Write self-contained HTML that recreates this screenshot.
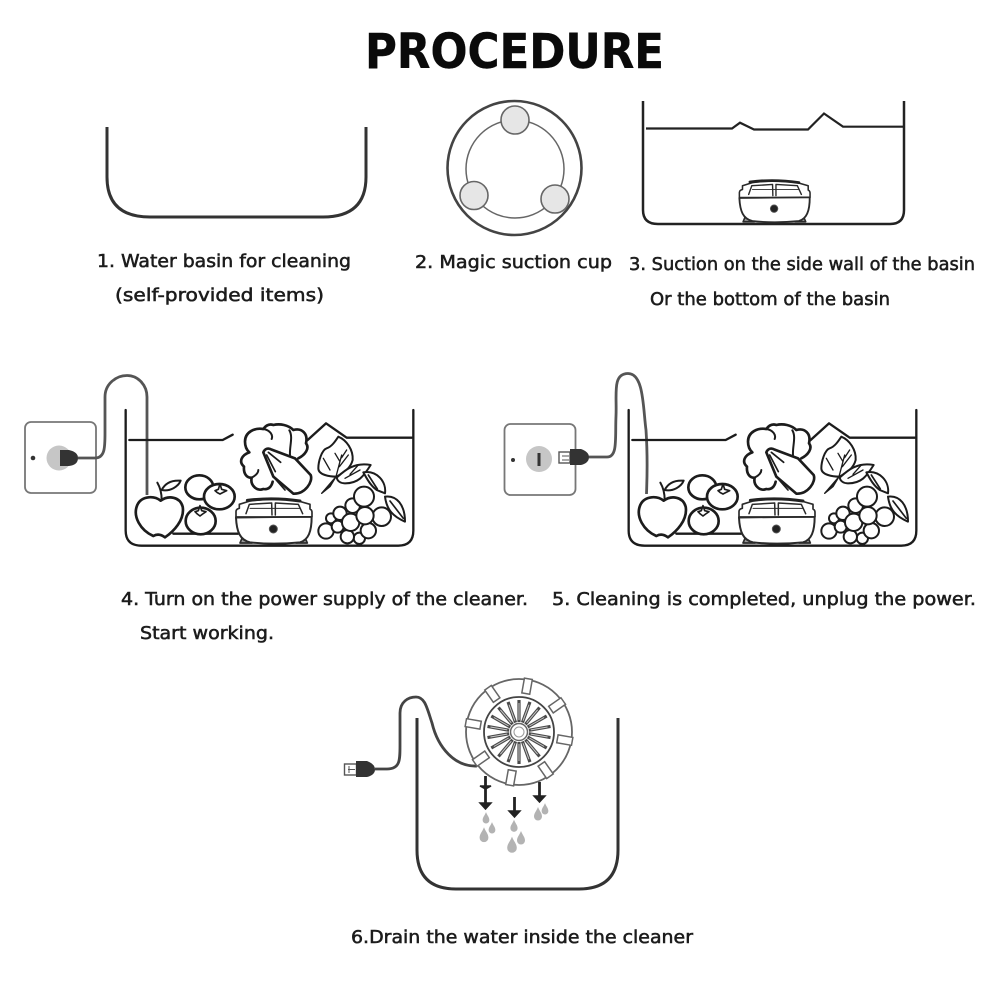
<!DOCTYPE html>
<html lang="en">
<head>
<meta charset="utf-8">
<title>Procedure</title>
<style>
html,body{margin:0;padding:0;background:#fff}
svg{display:block}
.t{font-family:"DejaVu Sans","Liberation Sans",sans-serif;font-size:18px;fill:#1c1c1c;stroke:#1c1c1c;stroke-width:.55}
.ttl{font-family:"DejaVu Sans","Liberation Sans",sans-serif;font-weight:bold;font-size:48px;fill:#0a0a0a;stroke:#0a0a0a;stroke-width:.4}
</style>
</head>
<body>
<svg width="1001" height="1001" viewBox="0 0 1001 1001" xmlns="http://www.w3.org/2000/svg">
<defs>
<g id="dev" fill="none" stroke="#2a2a2a" stroke-width="6" stroke-linejoin="round" stroke-linecap="round">
  <g transform="translate(660,165)">
    <path d="M30 384 L36 370 H58 L66 384 Z M198 384 L206 370 H226 L232 384 Z" fill="#999" stroke-width="5"/>
    <path d="M18 308 C20 350 30 375 60 382 Q130 390 210 382 C235 375 245 350 245 305" fill="#fff"/>
    <path d="M18 308 V290 Q18 282 28 280 L28 268 L60 258 Q130 248 205 258 L240 268 V282 Q246 285 246 292 V305 Z" fill="#fff" stroke-width="5"/>
    <path d="M52 256 Q130 246 210 258" stroke-width="9" stroke="#222"/>
    <path d="M18 306 H245" stroke-width="5"/>
    <path d="M48 296 L58 268 L125 264 L126 300 M136 300 L136 264 L205 268 L218 296" stroke-width="4.500"/>
    <path d="M60 280 H210" stroke-width="3"/>
    <circle cx="130" cy="342" r="12" fill="#222" stroke="#555" stroke-width="3"/>
  </g>
</g>
<g id="scene" fill="none" stroke="#1c1c1c" stroke-width="8" stroke-linejoin="round" stroke-linecap="round">
  <path d="M347 150 V512 Q347 557 395 557 H1165 Q1210 557 1210 512 V150" stroke-width="7"/>
  <path d="M358 240 H638 L668 224 M893 240 L948 190 L1010 233 H1206" stroke-width="7"/>
  <path d="M490 521 H684" stroke-width="7"/>
  <!-- apple, plum, tomatoes -->
  <g transform="translate(360,330)">
    <path d="M92 92 C70 75 30 78 20 110 C10 140 30 180 70 198 C80 192 92 192 105 202 C130 185 165 150 158 110 C150 80 115 75 92 92 Z" fill="#fff"/>
    <path d="M95 90 C95 70 92 55 82 38" stroke-width="6"/>
    <path d="M95 60 C105 40 125 30 152 32 C145 50 120 65 95 60 Z" fill="#fff" stroke-width="6"/>
    <ellipse cx="208" cy="52" rx="42" ry="36" fill="#fff"/>
    <ellipse cx="268" cy="80" rx="46" ry="38" fill="#fff"/>
    <ellipse cx="212" cy="153" rx="45" ry="40" fill="#fff"/>
    <path d="M255 62 L265 58 L270 42 L275 58 L290 62 L278 68 L270 72 L262 68 Z" fill="#fff" stroke-width="5"/>
    <path d="M195 125 L205 122 L210 107 L215 122 L228 125 L218 132 L210 138 L202 132 Z" fill="#fff" stroke-width="5"/>
  </g>
  <!-- produce, device -->
  <use href="#dev"/>
  <g transform="translate(660,165)">
    <path d="M205 130 C225 120 240 100 228 85 C235 55 215 38 190 45 C175 30 150 25 130 30 C115 25 105 35 100 42 C75 38 45 50 45 80 C45 95 50 105 58 112 C35 120 25 140 42 155 C40 175 50 190 65 188 C60 210 80 230 100 222 C115 225 125 215 128 200" fill="#fff"/>
    <path d="M100 42 C120 45 130 60 125 72 M178 46 C190 65 178 95 180 120 M65 188 C80 180 85 172 85 165" stroke-width="6"/>
    <path d="M100 112 C105 100 115 98 125 104 L195 130 L242 180 C250 200 225 238 190 236 L130 185 Z" fill="#fff"/>
    <path d="M115 112 L152 142 M110 120 L136 170 M130 185 L165 225" stroke-width="5"/>
    <path d="M325 65 C350 75 370 105 368 135 C360 165 335 175 320 185 C300 185 265 180 265 160 C265 140 275 105 290 100 C305 95 315 80 325 65 Z" fill="#fff" stroke-width="6"/>
    <path d="M320 188 C340 170 370 140 422 150 C400 185 385 205 345 205 C330 205 322 197 320 188 Z" fill="#fff" stroke-width="6"/>
    <path d="M275 235 L318 185 L300 215 Z" fill="#222" stroke-width="4"/>
    <path d="M318 185 L335 120 M330 140 L315 115 M328 155 L355 120 M335 128 L350 105 M300 165 L280 130 M345 190 L390 165 M360 178 L385 150" stroke-width="4"/>
    <path d="M400 172 C440 165 470 200 465 235 L440 225 C420 210 410 190 400 172 Z" fill="#fff" stroke-width="6"/>
    <path d="M415 180 L442 222" stroke-width="5"/>
    <path d="M465 245 C500 240 525 270 525 320 C490 305 470 285 465 245 Z" fill="#fff" stroke-width="6"/>
    <path d="M480 258 L520 310" stroke-width="5"/>
    <g fill="#fff" stroke-width="6">
      <circle cx="303" cy="310" r="15"/>
      <circle cx="388" cy="370" r="17"/>
      <circle cx="330" cy="295" r="20"/>
      <circle cx="288" cy="348" r="23"/>
      <circle cx="323" cy="335" r="18"/>
      <circle cx="352" cy="365" r="20"/>
      <circle cx="368" cy="272" r="22"/>
      <circle cx="415" cy="347" r="23"/>
      <circle cx="362" cy="322" r="26"/>
      <circle cx="455" cy="305" r="28"/>
      <circle cx="405" cy="302" r="26"/>
      <circle cx="402" cy="245" r="30"/>
    </g>
  </g>
</g>
<g id="spoke">
  <line x1="0" y1="-10" x2="0" y2="-32" stroke="#4a4a4a" stroke-width="3.200"/>
  <line x1="0" y1="-12" x2="0" y2="-29" stroke="#c8c8c8" stroke-width="1"/>
</g>
<path id="drop" d="M0 -14 C3 -6 8 -2 8 5 A8 8 0 1 1 -8 5 C-8 -2 -3 -6 0 -14 Z" fill="#b3b3b3"/>
</defs>

<rect width="1001" height="1001" fill="#fff"/>

<text class="ttl" x="365" y="68" textLength="299" lengthAdjust="spacingAndGlyphs">PROCEDURE</text>

<!-- Step 1 -->
<path d="M107 127 V177 Q107 217 150 217 H323 Q366 217 366 177 V127" fill="none" stroke="#333" stroke-width="3"/>
<text class="t" x="97" y="267" textLength="254" lengthAdjust="spacingAndGlyphs">1. Water basin for cleaning</text>
<text class="t" x="115" y="301" textLength="209" lengthAdjust="spacingAndGlyphs">(self-provided items)</text>

<!-- Step 2 -->
<circle cx="514.5" cy="168" r="67" fill="none" stroke="#444" stroke-width="2.6"/>
<circle cx="515" cy="169" r="49" fill="none" stroke="#666" stroke-width="1.5"/>
<g fill="#e6e6e6" stroke="#666" stroke-width="1.6">
  <circle cx="515" cy="120" r="14"/>
  <circle cx="474" cy="195.500" r="14"/>
  <circle cx="555" cy="199" r="14"/>
</g>
<text class="t" x="415" y="268" textLength="197" lengthAdjust="spacingAndGlyphs">2. Magic suction cup</text>

<!-- Step 3 -->
<path d="M643 101 V210 Q643 224 658 224 H890 Q904 224 904 210 V101" fill="none" stroke="#222" stroke-width="2.500"/>
<path d="M646 128.500 H732 L740 122.700 L754 129.500 H808 L824 113.500 L843 126.700 H903" fill="none" stroke="#222" stroke-width="2.200"/>
<use href="#dev" transform="translate(529.2,51.500) scale(.31)"/>
<text class="t" x="629" y="270" textLength="346" lengthAdjust="spacingAndGlyphs">3. Suction on the side wall of the basin</text>
<text class="t" x="650" y="305" textLength="240" lengthAdjust="spacingAndGlyphs">Or the bottom of the basin</text>

<!-- Step 4 -->
<rect x="25" y="422" width="71" height="71" rx="6" fill="#fff" stroke="#777" stroke-width="1.8"/>
<circle cx="33" cy="458" r="2.300" fill="#333"/>
<circle cx="59" cy="458" r="12.500" fill="#c6c6c6"/>
<path d="M60 450 H69 Q78 452 78 458 Q78 465 69 466 H60 Z" fill="#333"/>
<path d="M78 458 H95 C105 458 105 447 105 433 V397 C105 384 116 375.500 127 375.500 C138 375.500 147 385 147 397 V495" fill="none" stroke="#555" stroke-width="2.8"/>
<use href="#scene" transform="translate(10,360) scale(.33333)"/>
<text class="t" x="121" y="605" textLength="407" lengthAdjust="spacingAndGlyphs">4. Turn on the power supply of the cleaner.</text>
<text class="t" x="140" y="639" textLength="134" lengthAdjust="spacingAndGlyphs">Start working.</text>

<!-- Step 5 -->
<rect x="504.500" y="424" width="71" height="71" rx="6" fill="#fff" stroke="#777" stroke-width="1.8"/>
<circle cx="513" cy="460" r="2" fill="#333"/>
<circle cx="539" cy="459" r="13" fill="#c6c6c6"/>
<rect x="537.500" y="453" width="3" height="13" fill="#333"/>
<rect x="559" y="452" width="11" height="11" fill="#fff" stroke="#555" stroke-width="1.400"/>
<path d="M562 456 H569 M562 460 H569" stroke="#555" stroke-width="1"/>
<path d="M570 449 H581 Q589 452 589 457 Q589 463 581 465 H570 Z" fill="#333"/>
<path d="M589 457 H607 C618 457 615 438 616 416 C617 395 612 373.500 628 373.500 C644 373.500 643 408 646 430 C648 460 647 478 646.500 494" fill="none" stroke="#555" stroke-width="2.8"/>
<use href="#scene" transform="translate(513,360) scale(.33333)"/>
<text class="t" x="552" y="605" textLength="424" lengthAdjust="spacingAndGlyphs">5. Cleaning is completed, unplug the power.</text>

<!-- Step 6 -->
<path d="M417 718 V850 Q417 889 456 889 H579 Q618 889 618 850 V718" fill="none" stroke="#333" stroke-width="3"/>
<rect x="344.500" y="764" width="12" height="11" fill="#fff" stroke="#555" stroke-width="1.400"/>
<path d="M348 769.500 H355 M349 766 V773" stroke="#555" stroke-width="1"/>
<path d="M356 761 H367 Q375 764 375 769.500 Q375 775 367 777 H356 Z" fill="#333"/>
<path d="M375 769 H387 C400 769 400 760 400 746 V713 C400 702 408 697 416 697 C425 697 427 708 432 723 C438 748 455 767 477 766" fill="none" stroke="#444" stroke-width="2.800"/>
<circle cx="519" cy="732" r="53" fill="#fff" stroke="#666" stroke-width="1.800"/>
<g transform="translate(519,732)">
  <g fill="#fff" stroke="#666" stroke-width="1.500">
    <rect x="-4" y="-54" width="8" height="15" transform="rotate(10)"/>
    <rect x="-4" y="-54" width="8" height="15" transform="rotate(55)"/>
    <rect x="-4" y="-54" width="8" height="15" transform="rotate(100)"/>
    <rect x="-4" y="-54" width="8" height="15" transform="rotate(145)"/>
    <rect x="-4" y="-54" width="8" height="15" transform="rotate(190)"/>
    <rect x="-4" y="-54" width="8" height="15" transform="rotate(235)"/>
    <rect x="-4" y="-54" width="8" height="15" transform="rotate(280)"/>
    <rect x="-4" y="-54" width="8" height="15" transform="rotate(325)"/>
  </g>
  <circle r="35" fill="#fff" stroke="#444" stroke-width="1.800"/>
  <use href="#spoke"/>
  <use href="#spoke" transform="rotate(20)"/>
  <use href="#spoke" transform="rotate(40)"/>
  <use href="#spoke" transform="rotate(60)"/>
  <use href="#spoke" transform="rotate(80)"/>
  <use href="#spoke" transform="rotate(100)"/>
  <use href="#spoke" transform="rotate(120)"/>
  <use href="#spoke" transform="rotate(140)"/>
  <use href="#spoke" transform="rotate(160)"/>
  <use href="#spoke" transform="rotate(180)"/>
  <use href="#spoke" transform="rotate(200)"/>
  <use href="#spoke" transform="rotate(220)"/>
  <use href="#spoke" transform="rotate(240)"/>
  <use href="#spoke" transform="rotate(260)"/>
  <use href="#spoke" transform="rotate(280)"/>
  <use href="#spoke" transform="rotate(300)"/>
  <use href="#spoke" transform="rotate(320)"/>
  <use href="#spoke" transform="rotate(340)"/>
  <circle r="8.500" fill="#fff" stroke="#666" stroke-width="1.500"/>
  <circle r="5" fill="#fff" stroke="#999" stroke-width="1"/>
</g>
<!-- arrows -->
<g fill="#222" stroke="#222">
  <path d="M485.500 776 V806" stroke-width="2.800" fill="none"/>
  <path d="M480 786 H491 L485.500 789 Z M480 803 H491 L485.500 809 Z" stroke-width="1.500"/>
  <path d="M514.500 797 V814" stroke-width="2.800" fill="none"/>
  <path d="M509 811 H520 L514.500 817 Z" stroke-width="1.500"/>
  <path d="M539.500 782 V798" stroke-width="2.800" fill="none"/>
  <path d="M534 796 H545 L539.500 802 Z" stroke-width="1.500"/>
</g>
<!-- drops -->
<use href="#drop" transform="translate(486,818) scale(.42)"/>
<use href="#drop" transform="translate(492,828) scale(.42)"/>
<use href="#drop" transform="translate(484,835) scale(.55)"/>
<use href="#drop" transform="translate(514,826) scale(.45)"/>
<use href="#drop" transform="translate(521,838) scale(.5)"/>
<use href="#drop" transform="translate(512,845) scale(.6)"/>
<use href="#drop" transform="translate(545,809) scale(.42)"/>
<use href="#drop" transform="translate(538,814) scale(.5)"/>
<text class="t" x="351" y="943" textLength="342" lengthAdjust="spacingAndGlyphs">6.Drain the water inside the cleaner</text>
</svg>
</body>
</html>
